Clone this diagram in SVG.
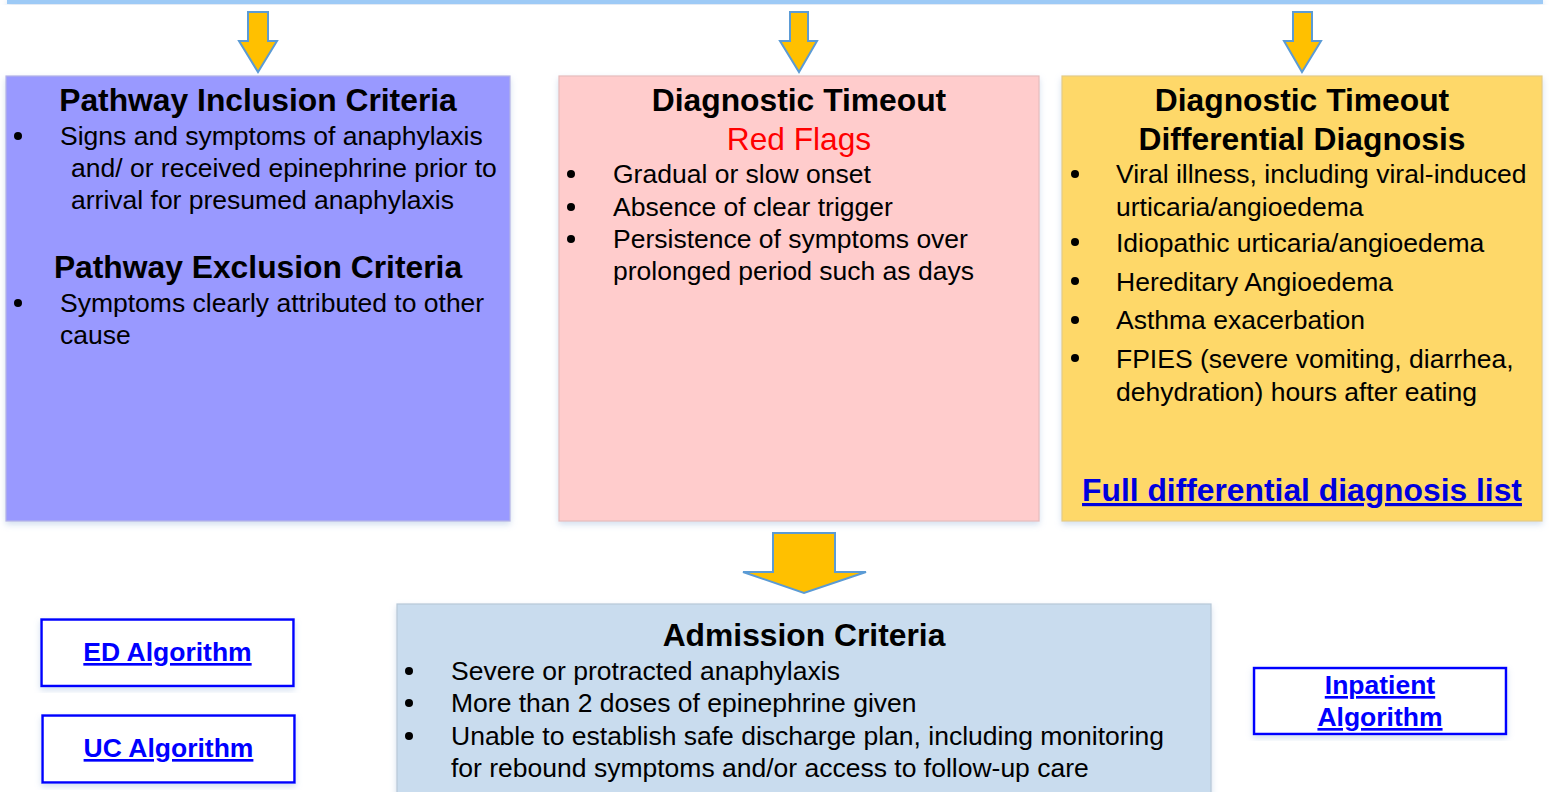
<svg xmlns="http://www.w3.org/2000/svg" width="1549" height="792" viewBox="0 0 1549 792">
<defs>
<filter id="sh" x="-5%" y="-5%" width="110%" height="115%">
<feDropShadow dx="0" dy="3" stdDeviation="3" flood-color="#9db8dc" flood-opacity="0.45"/>
</filter>
</defs>
<style>
text{font-family:"Liberation Sans",Arial,sans-serif;fill:#000}
.t{font-size:31.8px;font-weight:bold;text-anchor:middle}
.b{font-size:26.5px}
.red{font-size:31.7px;fill:#ff0000;text-anchor:middle}
.lk{font-weight:bold;fill:#0000ff;text-decoration:underline;text-anchor:middle}
.box{stroke-width:1.2;filter:url(#sh)}
.lbox{fill:#fff;stroke:#0000ff;stroke-width:2.5;filter:url(#sh)}
.arr{fill:#ffc000;stroke:#5b9bd5;stroke-width:2;stroke-linejoin:miter}
.dot{fill:#000}
</style>
<rect x="7" y="-2" width="1536" height="6" fill="#9dcaf6" filter="url(#sh)"/>
<g id="connectors">
<path class="arr" d="M248,12 H268 V41 H277 L258,72 L239,41 H248 Z"/>
<path class="arr" d="M790,12 H808 V41 H817 L799,72 L780,41 H790 Z"/>
<path class="arr" d="M1293,12 H1312 V41 H1321 L1302,72 L1284,41 H1293 Z"/>
<path class="arr" d="M773,533 H835 V572 H866 L804,593 L743,572 H773 Z"/>
</g>
<g id="inclusion">
<rect class="box" x="6" y="76" width="504" height="445" fill="#9999ff" stroke="#b4b4e6"/>
<text class="t" x="258" y="111">Pathway Inclusion Criteria</text>
<circle class="dot" cx="18" cy="136" r="4"/>
<text class="b" x="60" y="145">Signs and symptoms of anaphylaxis</text>
<text class="b" x="71" y="177">and/ or received epinephrine prior to</text>
<text class="b" x="71" y="209">arrival for presumed anaphylaxis</text>
<text class="t" x="258" y="278">Pathway Exclusion Criteria</text>
<circle class="dot" cx="18" cy="303" r="4"/>
<text class="b" x="60" y="312">Symptoms clearly attributed to other</text>
<text class="b" x="60" y="344">cause</text>
</g>
<g id="redflags">
<rect class="box" x="559" y="76" width="480" height="445" fill="#ffcccc" stroke="#e6bcbc"/>
<text class="t" x="799" y="111">Diagnostic Timeout</text>
<text class="red" x="799" y="150">Red Flags</text>
<circle class="dot" cx="571" cy="174" r="4"/>
<circle class="dot" cx="571" cy="207" r="4"/>
<circle class="dot" cx="571" cy="239" r="4"/>
<text class="b" x="613" y="183">Gradual or slow onset</text>
<text class="b" x="613" y="216">Absence of clear trigger</text>
<text class="b" x="613" y="248">Persistence of symptoms over</text>
<text class="b" x="613" y="280">prolonged period such as days</text>
</g>
<g id="differential">
<rect class="box" x="1062" y="76" width="480" height="445" fill="#fed869" stroke="#e3cc86"/>
<text class="t" x="1302" y="111">Diagnostic Timeout</text>
<text class="t" x="1302" y="150">Differential Diagnosis</text>
<circle class="dot" cx="1075" cy="174" r="4"/>
<circle class="dot" cx="1075" cy="242" r="4"/>
<circle class="dot" cx="1075" cy="281" r="4"/>
<circle class="dot" cx="1075" cy="320" r="4"/>
<circle class="dot" cx="1075" cy="358" r="4"/>
<text class="b" x="1116" y="183">Viral illness, including viral-induced</text>
<text class="b" x="1116" y="216">urticaria/angioedema</text>
<text class="b" x="1116" y="252">Idiopathic urticaria/angioedema</text>
<text class="b" x="1116" y="291">Hereditary Angioedema</text>
<text class="b" x="1116" y="329">Asthma exacerbation</text>
<text class="b" x="1116" y="368">FPIES (severe vomiting, diarrhea,</text>
<text class="b" x="1116" y="401">dehydration) hours after eating</text>
<text class="lk" x="1302" y="501" font-size="31.8" style="fill:#0000dd">Full differential diagnosis list</text>
</g>
<g id="admission">
<rect class="box" x="397" y="604" width="814" height="192" fill="#c9dcee" stroke="#b8c8d8"/>
<text class="t" x="804" y="646">Admission Criteria</text>
<circle class="dot" cx="409" cy="671" r="4"/>
<circle class="dot" cx="409" cy="703" r="4"/>
<circle class="dot" cx="409" cy="736" r="4"/>
<text class="b" x="451" y="680">Severe or protracted anaphylaxis</text>
<text class="b" x="451" y="712">More than 2 doses of epinephrine given</text>
<text class="b" x="451" y="745">Unable to establish safe discharge plan, including monitoring</text>
<text class="b" x="451" y="777">for rebound symptoms and/or access to follow-up care</text>
</g>
<g id="ed">
<rect class="lbox" x="41.5" y="619.5" width="252" height="66.5"/>
<text class="lk" x="167.5" y="661" font-size="26.5">ED Algorithm</text>
</g>
<g id="uc">
<rect class="lbox" x="42.5" y="715.5" width="252" height="67"/>
<text class="lk" x="168.5" y="757" font-size="26.5">UC Algorithm</text>
</g>
<g id="inpatient">
<rect class="lbox" x="1254" y="668" width="252" height="66"/>
<text class="lk" x="1380" y="694" font-size="26.5">Inpatient</text>
<text class="lk" x="1380" y="726" font-size="26.5">Algorithm</text>
</g>
</svg>
